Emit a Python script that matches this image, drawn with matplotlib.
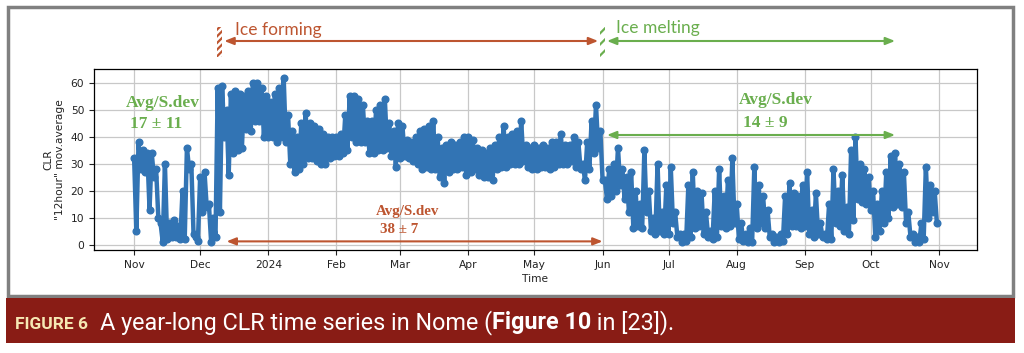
import matplotlib
matplotlib.use('Agg')
import matplotlib.pyplot as plt
import matplotlib.dates as mdates
from matplotlib.patches import Rectangle
from matplotlib.ticker import FuncFormatter
from matplotlib.transforms import blended_transform_factory
import numpy as np
import pandas as pd

# CLR "12hour" moving average, read off the picture as upper/lower envelope
# every two days starting 2023-11-01 (high on even day, low on the next day)
start_day = '2023-11-01'
clr_high = [32, 38, 35, 34, 34, 28, 8, 30, 8, 9,
            7, 20, 36, 30, 3, 25, 27, 15, 10, 58,
            59, 50, 56, 57, 56, 55, 57, 60, 60, 58,
            55, 53, 56, 58, 62, 48, 42, 40, 45, 49,
            45, 44, 43, 41, 40, 40, 40, 41, 48, 55,
            55, 54, 52, 46, 46, 50, 52, 54, 45, 42,
            45, 44, 39, 38, 40, 42, 43, 44, 46, 40,
            36, 37, 38, 37, 38, 40, 40, 39, 36, 35,
            34, 36, 37, 40, 44, 40, 41, 42, 46, 37,
            36, 37, 36, 37, 36, 38, 38, 41, 37, 37,
            40, 38, 30, 38, 46, 52, 42, 24, 28, 30,
            36, 28, 25, 27, 20, 15, 35, 20, 10, 30,
            12, 22, 29, 12, 4, 4, 22, 27, 20, 19,
            12, 5, 20, 28, 18, 24, 32, 15, 8, 4,
            6, 29, 22, 18, 13, 4, 3, 4, 18, 23,
            19, 18, 22, 27, 13, 19, 8, 4, 15, 28,
            20, 26, 14, 35, 40, 30, 28, 25, 20, 15,
            20, 27, 33, 34, 30, 27, 12, 4, 3, 8,
            29, 22, 20]
clr_low = [5, 28, 27, 13, 25, 10, 1, 2, 3, 3,
           2, 2, 28, 4, 1.5, 12, 14, 1, 3, 12,
           40, 26, 34, 35, 36, 43, 42, 46, 46, 40,
           40, 40, 38, 40, 38, 30, 27, 28, 30, 32,
           32, 31, 30, 30, 32, 33, 33, 34, 35, 40,
           38, 38, 38, 34, 34, 35, 35, 36, 33, 29,
           32, 33, 32, 31, 30, 28, 29, 28, 28, 25,
           23, 27, 28, 28, 29, 26, 27, 28, 26, 25,
           25, 24, 28, 29, 29, 30, 30, 30, 31, 29,
           28, 28, 29, 29, 28, 29, 30, 30, 30, 31,
           29, 28, 24, 28, 34, 36, 24, 17, 18, 20,
           22, 17, 12, 6, 7, 6, 12, 5, 4, 5,
           4, 4, 8, 3, 1, 1.5, 3, 6, 7, 4,
           3, 2, 3, 7, 6, 7, 8, 2, 1.5, 1,
           1, 6, 8, 6, 3, 1, 1, 1.5, 4, 7,
           7, 6, 7, 4, 3, 4, 3, 2, 2, 8,
           7, 5, 4, 9, 17, 16, 15, 13, 3, 5,
           8, 10, 14, 15, 14, 8, 3, 1, 1, 2,
           10, 12, 8]

# periods and their statistics
ice_forming = ('2023-12-12', '2024-05-30')
ice_forming_bar = '2023-12-10'
ice_melting = ('2024-06-03', '2024-10-12')
ice_melting_bar = '2024-06-01'
stats = {'before': ('Avg/S.dev', '17 \u00b1 11'),
         'forming': ('Avg/S.dev', '38 \u00b1 7'),
         'melting': ('Avg/S.dev', '14 \u00b1 9')}

brown = '#bd5530'
green = '#6aae4e'
blue = '#3274b4'

plt.rcParams['hatch.linewidth'] = 1.6

days = pd.date_range(start_day, periods=2 * len(clr_high), freq='D')
clr = np.column_stack([clr_high, clr_low]).ravel()

W, H = 1024, 353
fig = plt.figure(figsize=(W / 100, H / 100), dpi=100)

# grey frame and caption bar
fig.add_artist(Rectangle((8 / W, 1 - 296 / H), 1005 / W, 289 / H, transform=fig.transFigure,
                         fill=False, edgecolor='#808080', lw=2.5))
fig.add_artist(Rectangle((6 / W, 1 - 343 / H), 1009 / W, 45 / H, transform=fig.transFigure,
                         facecolor='#891c15', edgecolor='none'))

ax = fig.add_axes([94 / W, 1 - 250 / H, 883 / W, 181 / H])
ax.plot(days, clr, '-o', color=blue, lw=3.2, ms=4.8)
ax.set_ylim(-2, 65.2)
ax.set_yticks(range(0, 61, 10))
ax.grid(True, color='#c8c8c8', lw=0.9)
ax.set_axisbelow(True)
ax.xaxis.set_major_locator(mdates.MonthLocator())


def month_label(x, pos):
    d = mdates.num2date(x)
    return str(d.year) if d.month == 1 else d.strftime('%b')


ax.xaxis.set_major_formatter(FuncFormatter(month_label))
ax.tick_params(labelsize=7.7, length=3.5, colors='#222222')
ax.set_xlabel('Time', fontsize=7.7, labelpad=3, color='#222222')
ax.set_ylabel('CLR\n"12hour" mov.average', fontsize=7.7, labelpad=4, color='#222222')
for s in ax.spines.values():
    s.set_linewidth(0.9)

to_num = lambda s: mdates.date2num(pd.Timestamp(s))
ylab = lambda px: 1 - px / H

# top arrows (outside the axes)
arrow_kw = dict(arrowstyle='<|-|>,head_length=0.55,head_width=0.22', lw=1.5, shrinkA=0, shrinkB=0)
ax.annotate('', xy=(to_num(ice_forming[0]), ylab(41)), xytext=(to_num(ice_forming[1]), ylab(41)),
            xycoords=('data', 'figure fraction'), textcoords=('data', 'figure fraction'),
            arrowprops=dict(color=brown, **arrow_kw), annotation_clip=False)
ax.annotate('', xy=(to_num(ice_melting[0]), ylab(41)), xytext=(to_num(ice_melting[1]), ylab(41)),
            xycoords=('data', 'figure fraction'), textcoords=('data', 'figure fraction'),
            arrowprops=dict(color=green, **arrow_kw), annotation_clip=False)

bt = blended_transform_factory(ax.transData, fig.transFigure)
for bar_day, col, hatch in [(ice_forming_bar, brown, '/////'), (ice_melting_bar, green, '///')]:
    r = Rectangle((to_num(bar_day) - 1.1, ylab(57)), 2.2, 30 / H, transform=bt,
                  facecolor='white', edgecolor=col, hatch=hatch, lw=0, clip_on=False)
    fig.add_artist(r)

ax.text(to_num('2023-12-17'), ylab(30), 'Ice forming', transform=bt, color=brown,
        fontsize=12.5, family='Lato', va='center', ha='left')
ax.text(to_num('2024-06-07'), ylab(28), 'Ice melting', transform=bt, color=green,
        fontsize=12.5, family='Lato', va='center', ha='left')

# arrows inside the axes
ax.annotate('', xy=(to_num('2023-12-13'), 1.2), xytext=(to_num('2024-06-01'), 1.2),
            arrowprops=dict(color=brown, **arrow_kw))
ax.annotate('', xy=(to_num('2024-06-03'), 40.7), xytext=(to_num('2024-10-12'), 40.7),
            arrowprops=dict(color=green, **arrow_kw))

serif = dict(family='Liberation Serif', weight='bold', va='center', ha='left')
ax.text(to_num('2023-10-28'), 52.6, stats['before'][0], color=green, fontsize=12.5, **serif)
ax.text(to_num('2023-10-30'), 44.8, stats['before'][1], color=green, fontsize=12.5, **serif)
ax.text(to_num('2024-08-02'), 53.7, stats['melting'][0], color=green, fontsize=12.5, **serif)
ax.text(to_num('2024-08-04'), 45.2, stats['melting'][1], color=green, fontsize=12.5, **serif)
ax.text(to_num('2024-02-19'), 12.2, stats['forming'][0], color=brown, fontsize=10.8, **serif)
ax.text(to_num('2024-02-21'), 5.6, stats['forming'][1], color=brown, fontsize=10.8, **serif)

# caption
renderer = fig.canvas.get_renderer()
fig.text(15 / W, ylab(329), 'FIGURE 6', color='#f6e8b4', fontsize=12.5, weight='bold',
         family='Roboto', va='baseline', ha='left')
x = 100
for piece, wt in [('A year-long CLR time series in Nome (', 'normal'),
                  ('Figure 10', 'bold'), (' in [23]).', 'normal')]:
    t = fig.text(x / W, ylab(329), piece, color='white', fontsize=16.8, weight=wt,
                 family='Roboto', va='baseline', ha='left')
    x = t.get_window_extent(renderer).x1

fig.savefig('out.png', dpi=100)
